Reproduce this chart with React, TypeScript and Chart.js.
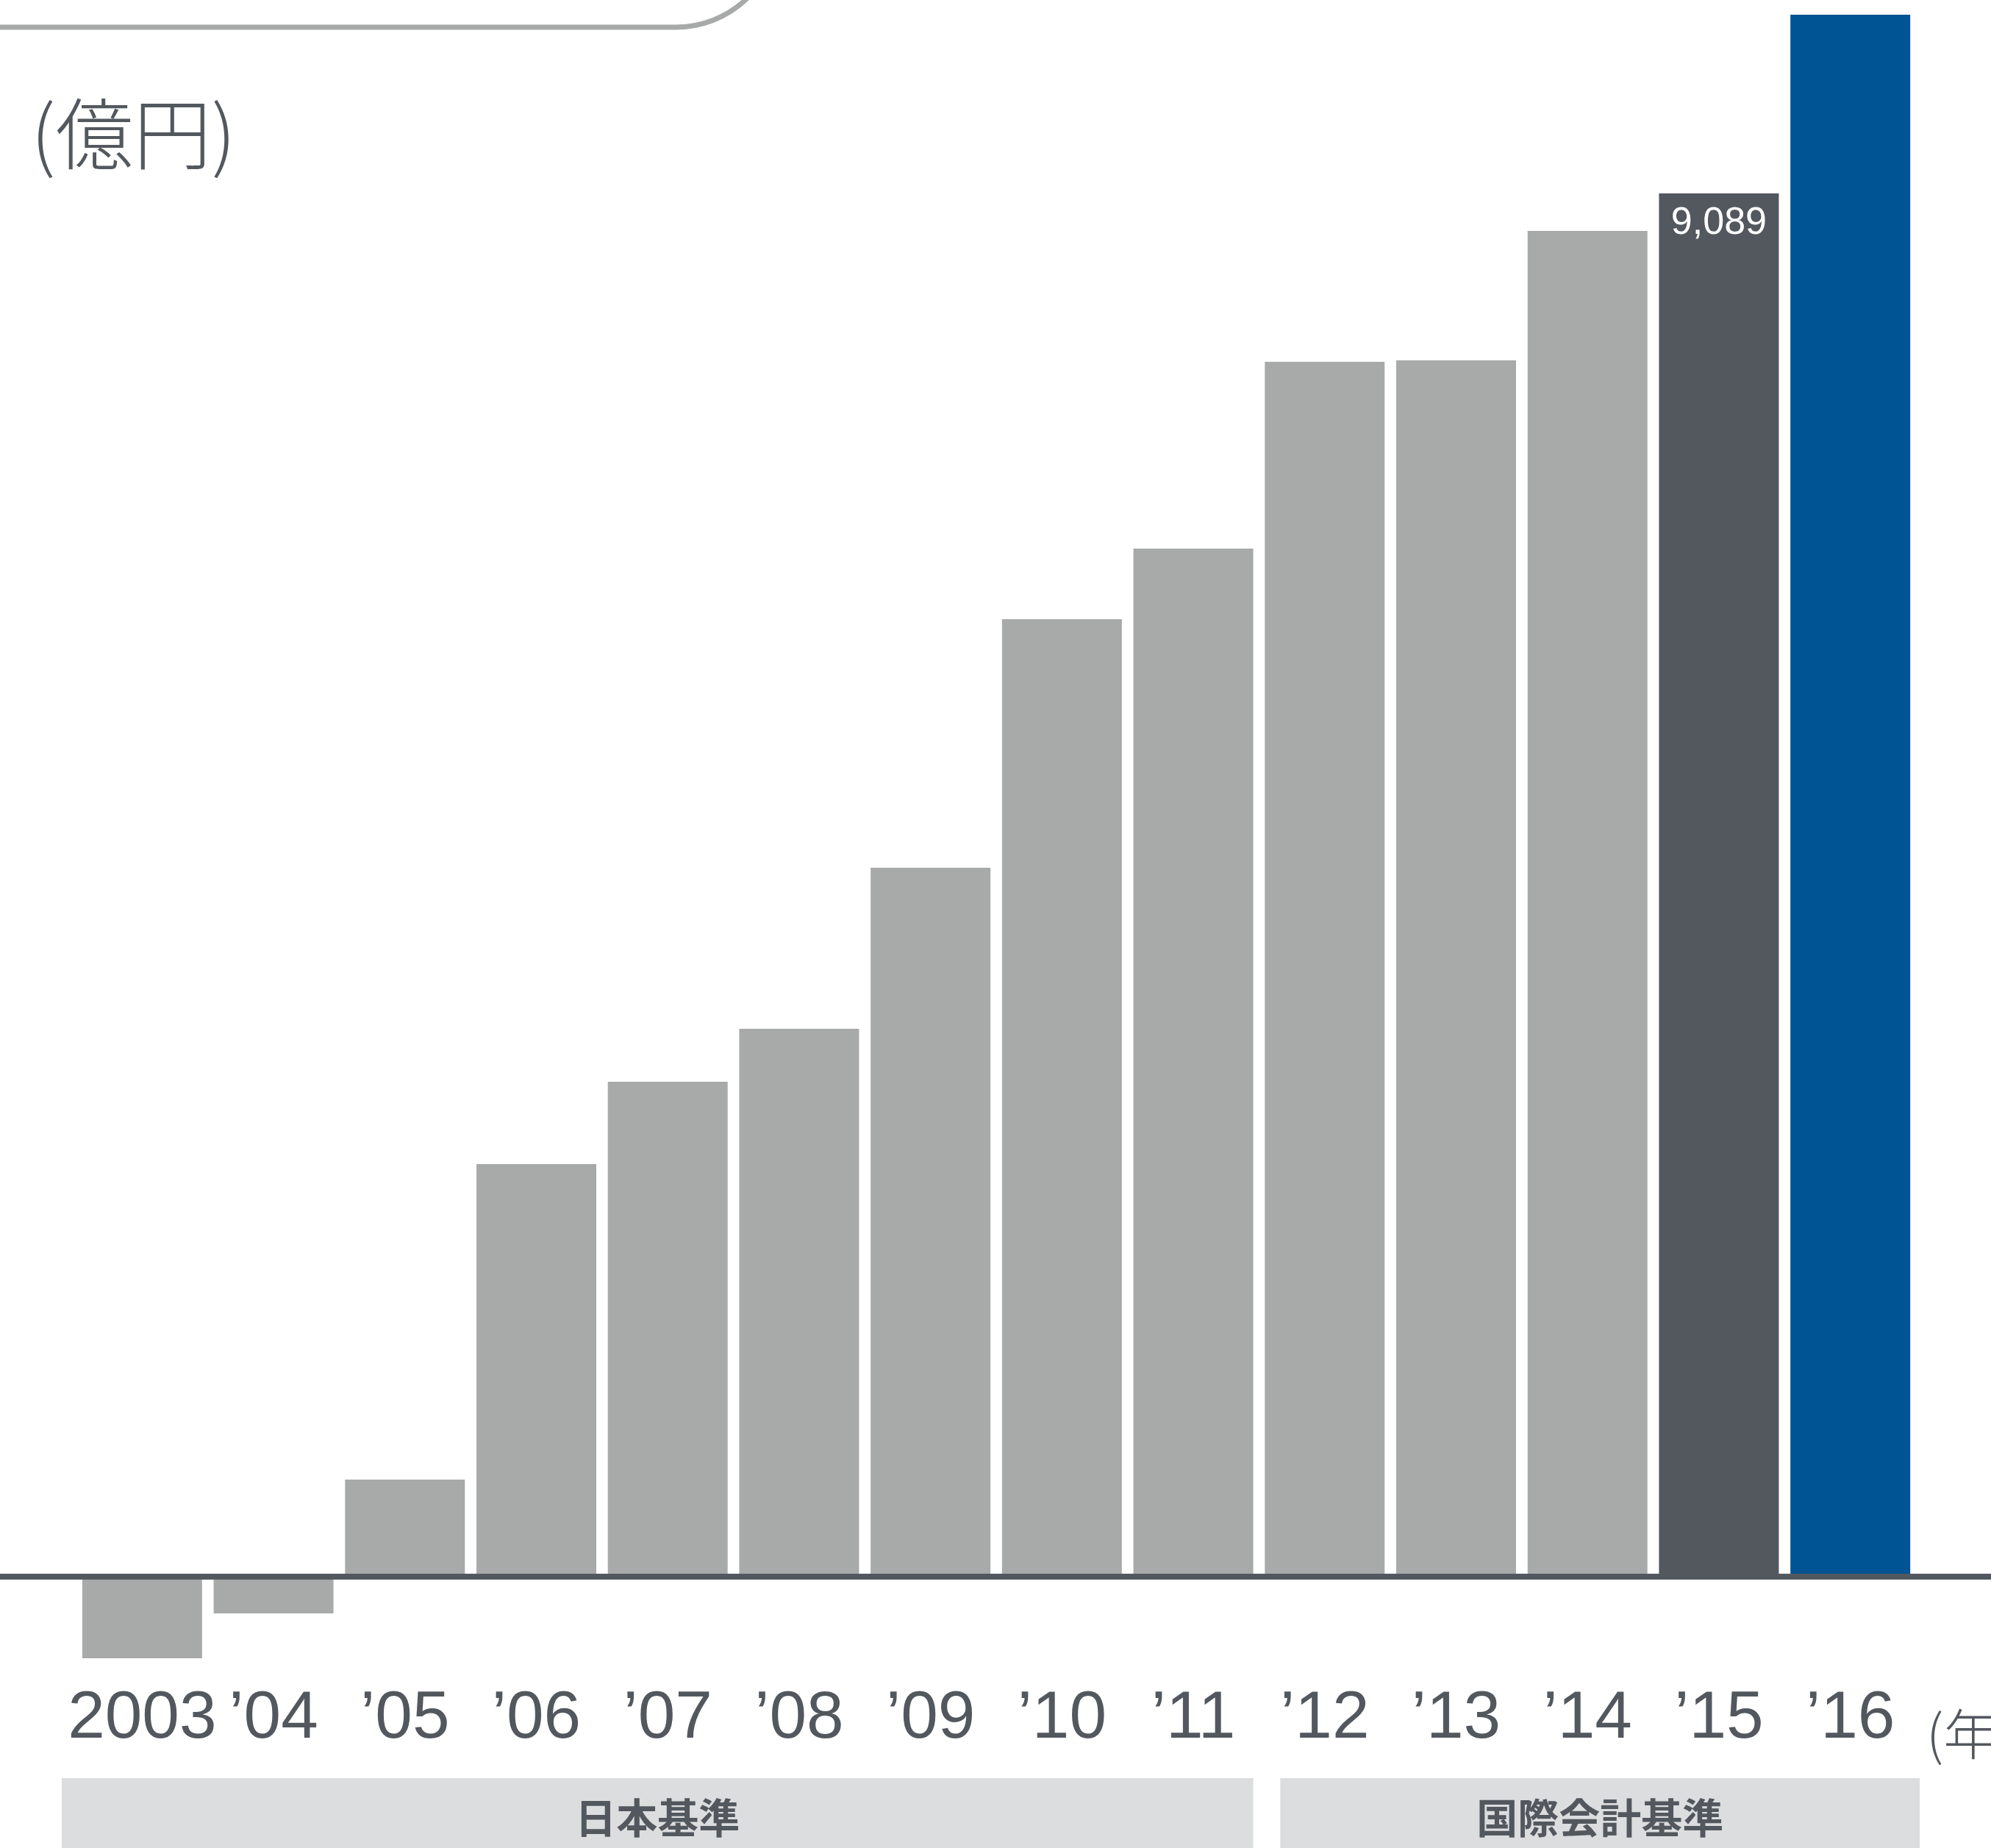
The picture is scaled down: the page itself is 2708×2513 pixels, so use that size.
import React, { useEffect, useRef } from "react";
import { Chart, registerables } from "chart.js";

Chart.register(...registerables);

// ---- data ----
const categories = ["2003", "\u201904", "\u201905", "\u201906", "\u201907", "\u201908", "\u201909", "\u201910", "\u201911", "\u201912", "\u201913", "\u201914", "\u201915", "\u201916"];
const values = [-536, -242, 638, 2711, 3252, 3600, 4658, 6291, 6755, 7982, 7992, 8843, 9089, 10263];
const labelledIndex = 12;
const unitLabel = "(億円)";
const yearLabel = "(年)";
const bandLabels = ["日本基準", "国際会計基準"];
const bandRanges = [
  [0, 8],
  [9, 13],
];

// ---- styles ----
const GREY = "#a8aaa9";
const DARK = "#53585f";
const BLUE = "#005493";
const BAND = "#dcdddf";
const barColors = values.map((_, i) => (i === 13 ? BLUE : i === 12 ? DARK : GREY));
const bandOffsets = [
  [-28, 0],
  [21, 13],
];

const W = 2708;
const H = 2513;

const decor = {
  id: "decor",
  beforeDraw(chart: any) {
    const ctx = chart.ctx;
    ctx.save();
    // rounded box fragment at top-left
    ctx.strokeStyle = GREY;
    ctx.lineWidth = 7;
    const r = 140;
    const yLine = 37;
    const xc = 919;
    ctx.beginPath();
    ctx.moveTo(-10, yLine);
    ctx.lineTo(xc, yLine);
    ctx.arc(xc, yLine - r, r, Math.PI / 2, 0, true);
    ctx.stroke();

    // unit label
    ctx.fillStyle = DARK;
    ctx.textBaseline = "middle";
    ctx.textAlign = "left";
    ctx.font = "300 106px 'Noto Sans CJK JP'";
    ctx.fillText(unitLabel, 42, 182);

    // year label
    ctx.font = "300 74px 'Noto Sans CJK JP'";
    ctx.fillText(yearLabel, 2620, 2358);

    // bands
    const meta = chart.getDatasetMeta(0);
    bandRanges.forEach((rg, k) => {
      const a = meta.data[rg[0]];
      const b = meta.data[rg[1]];
      const left = a.x - a.width / 2 + bandOffsets[k][0];
      const right = b.x + b.width / 2 + bandOffsets[k][1];
      ctx.fillStyle = BAND;
      ctx.fillRect(left, 2418, right - left, H - 2418);
      ctx.fillStyle = DARK;
      ctx.font = "bold 56px 'Noto Sans CJK JP'";
      ctx.textAlign = "center";
      ctx.textBaseline = "middle";
      ctx.fillText(bandLabels[k], (left + right) / 2, 2472);
    });
    ctx.restore();
  },
  afterDatasetsDraw(chart: any) {
    const ctx = chart.ctx;
    const y0 = chart.scales.y.getPixelForValue(0);
    ctx.save();
    ctx.fillStyle = DARK;
    ctx.fillRect(0, y0 - 4, W, 8);

    const meta = chart.getDatasetMeta(0);
    const bar = meta.data[labelledIndex];
    ctx.fillStyle = "#ffffff";
    ctx.font = "52px 'Liberation Sans'";
    ctx.textAlign = "center";
    ctx.textBaseline = "middle";
    ctx.fillText(values[labelledIndex].toLocaleString("en-US"), bar.x, bar.y + 41);
    ctx.restore();
  },
};

export default function App() {
  const ref = useRef<HTMLCanvasElement | null>(null);
  useEffect(() => {
    if (!ref.current) return;
    const chart = new Chart(ref.current, {
      type: "bar",
      data: {
        labels: categories,
        datasets: [
          {
            data: values,
            backgroundColor: barColors,
            borderWidth: 0,
            barPercentage: 0.912,
            categoryPercentage: 1,
          },
        ],
      },
      options: {
        animation: false,
        responsive: false,
        devicePixelRatio: 1,
        layout: { padding: { left: 104, right: 102, top: 12.38, bottom: 121.8 } },
        plugins: { legend: { display: false }, tooltip: { enabled: false }, title: { display: false } },
        scales: {
          x: {
            grid: { display: false, drawTicks: false },
            border: { display: false },
            afterFit: (scale: any) => {
              scale.height = 123;
            },
            ticks: {
              color: DARK,
              font: { family: "'Liberation Sans'", size: 91 },
              padding: 15,
              autoSkip: false,
              maxRotation: 0,
              minRotation: 0,
            },
          },
          y: {
            display: false,
            min: -600,
            max: 10300,
            grid: { display: false },
          },
        },
      },
      plugins: [decor],
    });
    return () => chart.destroy();
  }, []);
  return (
    <div style={{ position: "fixed", left: 0, top: 0, width: W, height: H, background: "#fff" }}>
      <canvas ref={ref} width={W} height={H} style={{ width: W, height: H, display: "block" }} />
    </div>
  );
}
